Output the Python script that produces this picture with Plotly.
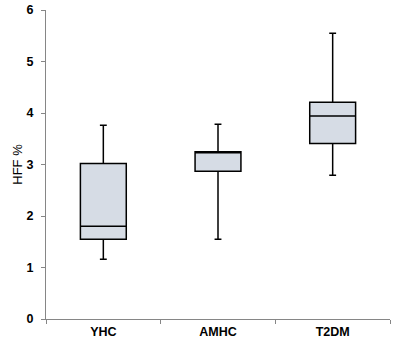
import plotly.graph_objects as go

groups = ["YHC", "AMHC", "T2DM"]
lower_whisker = [1.16, 1.55, 2.79]
q1_vals = [1.55, 2.87, 3.41]
median_vals = [1.80, 3.23, 3.94]
q3_vals = [3.02, 3.25, 4.21]
upper_whisker = [3.76, 3.78, 5.55]
y_ticks = [0, 1, 2, 3, 4, 5, 6]

fig = go.Figure()
fig.add_trace(go.Box(
    x=groups,
    q1=q1_vals,
    median=median_vals,
    q3=q3_vals,
    lowerfence=lower_whisker,
    upperfence=upper_whisker,
    fillcolor="#D6DCE5",
    line=dict(color="black", width=1.5),
    whiskerwidth=0.15,
    width=0.4,
    boxpoints=False,
    showlegend=False,
    hoverinfo="skip",
))

axis_gray = "#868686"
fig.update_layout(
    width=395, height=344,
    margin=dict(l=46, r=5, t=10, b=25, autoexpand=False),
    paper_bgcolor="white", plot_bgcolor="white",
    font=dict(family="Liberation Sans, Arial, sans-serif", color="black"),
    xaxis=dict(
        type="category",
        range=[-0.5, 2.5],
        showline=True, linecolor=axis_gray, linewidth=1,
        ticks="outside", tickson="boundaries", ticklen=4, tickcolor=axis_gray,
        tickfont=dict(size=12.5, family="Liberation Sans, Arial", weight="bold"),
        ticklabelstandoff=1,
        showgrid=False, zeroline=False,
    ),
    yaxis=dict(
        range=[0, 6], tickvals=y_ticks,
        showline=True, linecolor=axis_gray, linewidth=1,
        ticks="outside", ticklen=4, tickcolor=axis_gray,
        tickfont=dict(size=12.5, family="Liberation Sans, Arial", weight="bold"),
        ticklabelstandoff=5,
        showgrid=False, zeroline=False,
        title=dict(text="HFF %", font=dict(size=13, color="black"), standoff=0),
    ),
)

fig.write_html("out.html", config={"displayModeBar": False},
               post_script="document.body.style.margin='0';")
